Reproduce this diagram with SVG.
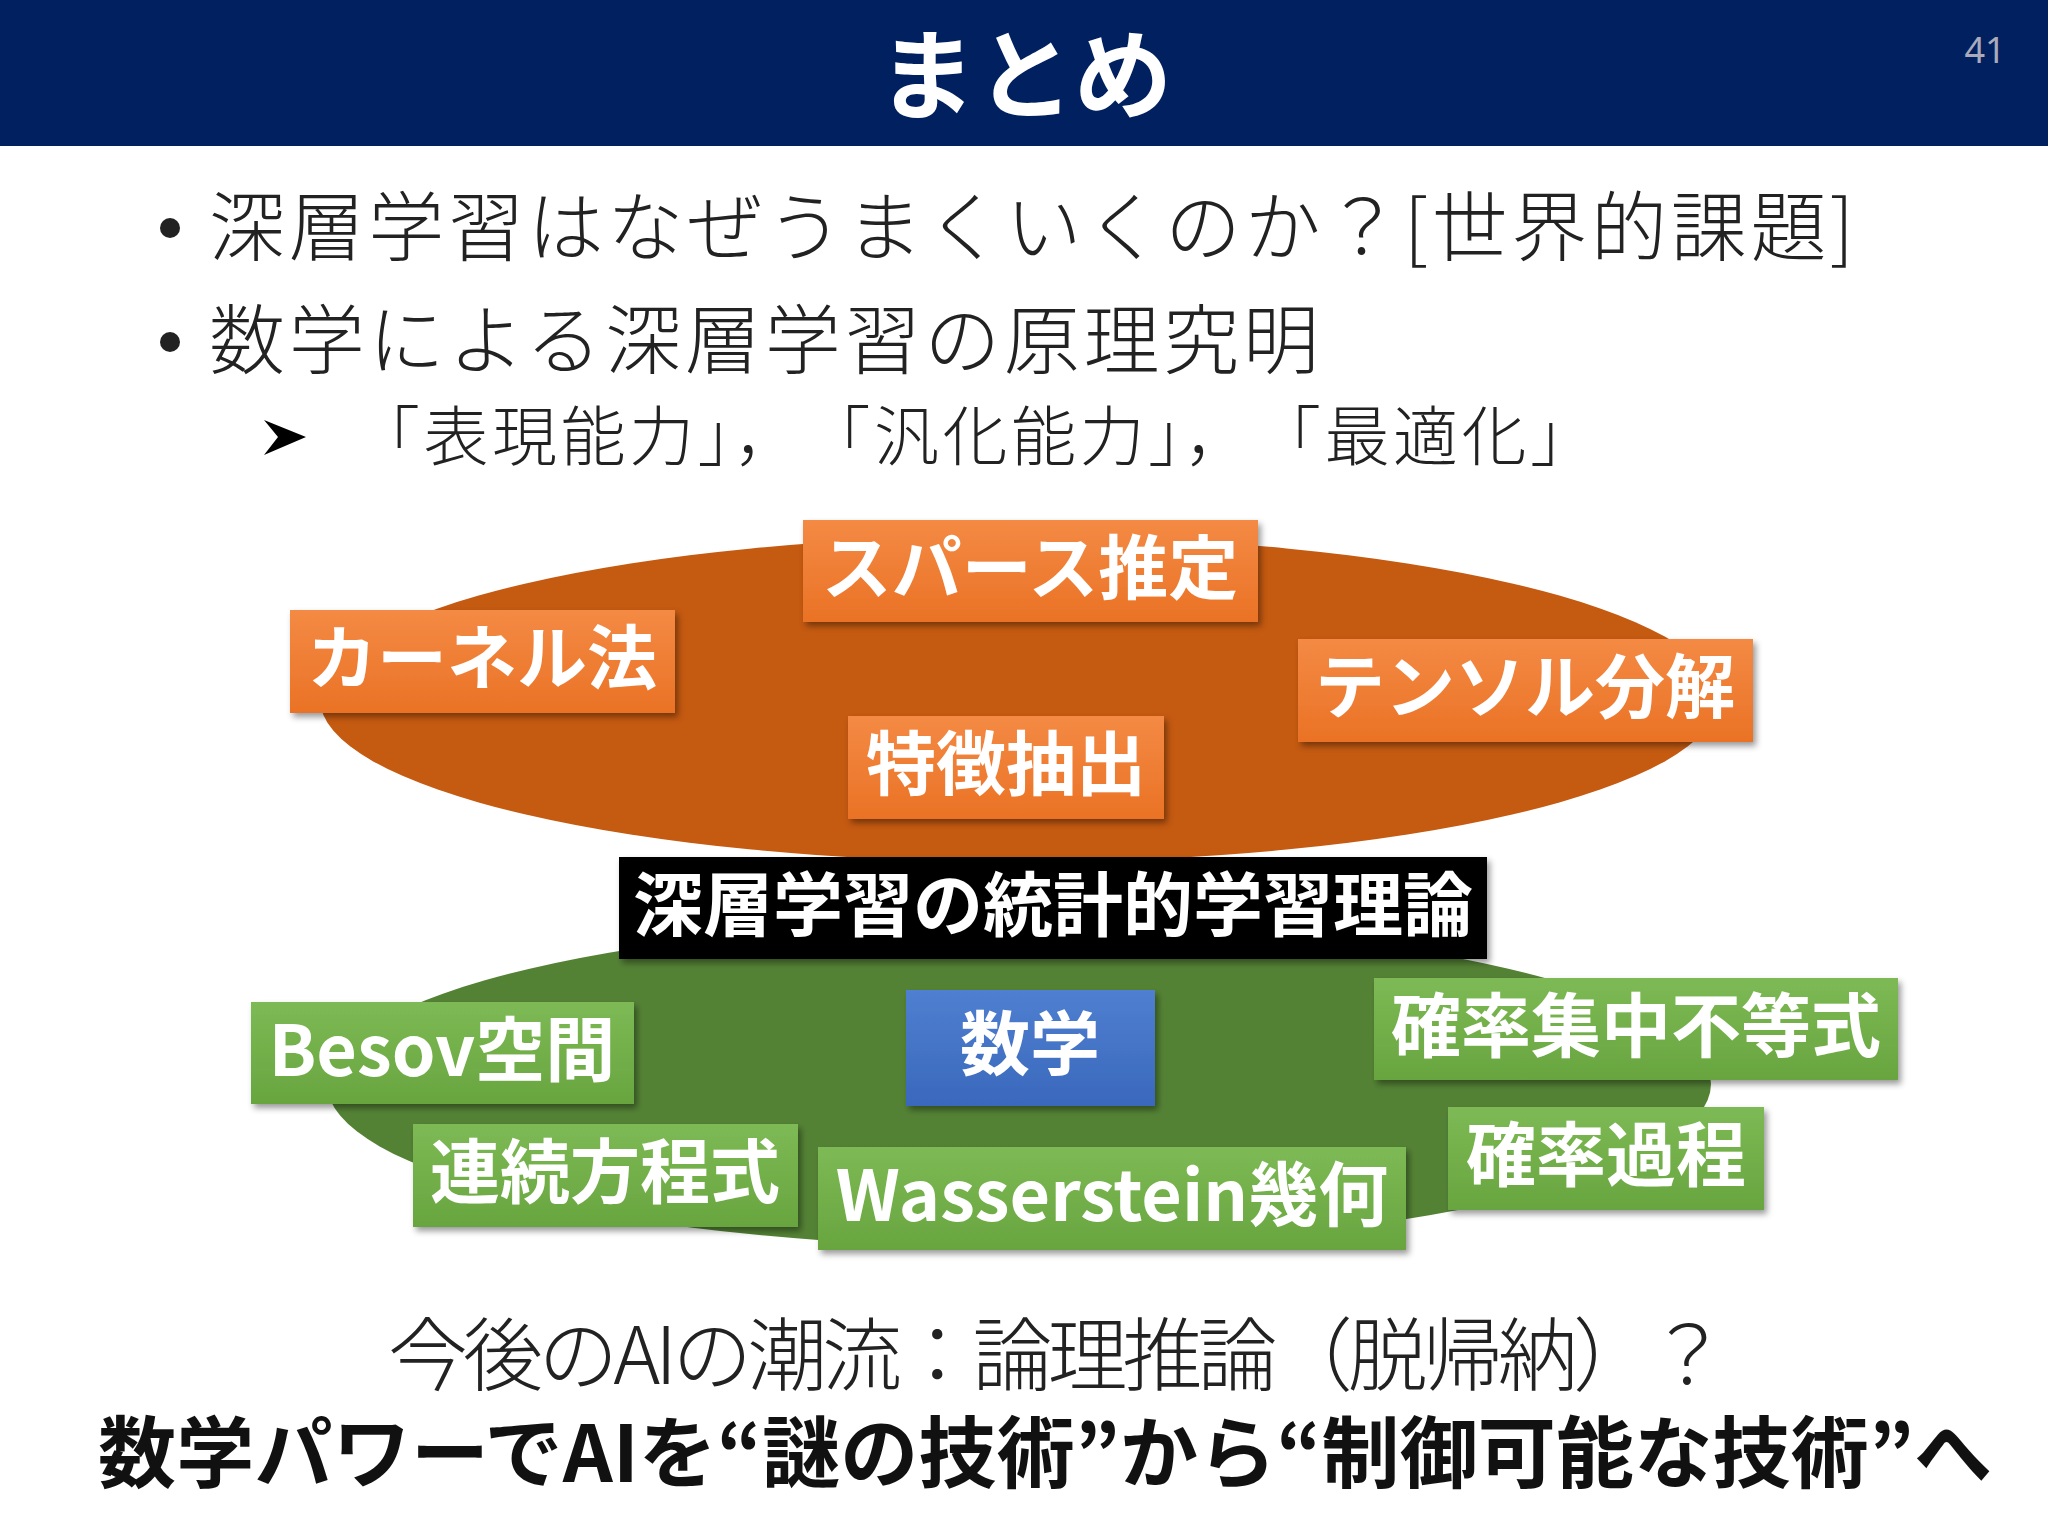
<svg xmlns="http://www.w3.org/2000/svg" width="2048" height="1536" viewBox="0 0 2048 1536">
<defs>
<filter id="sh" x="-10%" y="-10%" width="125%" height="130%"><feDropShadow dx="3" dy="4" stdDeviation="3" flood-color="#000" flood-opacity="0.4"/></filter>
<linearGradient id="og" x1="0" y1="0" x2="0" y2="1"><stop offset="0" stop-color="#F48A44"/><stop offset="1" stop-color="#EA7225"/></linearGradient>
<linearGradient id="gg" x1="0" y1="0" x2="0" y2="1"><stop offset="0" stop-color="#7DBA55"/><stop offset="1" stop-color="#68A53F"/></linearGradient>
<linearGradient id="bg" x1="0" y1="0" x2="0" y2="1"><stop offset="0" stop-color="#4F7FD0"/><stop offset="1" stop-color="#3A68BC"/></linearGradient>
</defs>
<style>
.jp{font-family:"Noto Sans CJK JP","Noto Sans",sans-serif}
.lbl{font-family:"Noto Sans CJK JP","Noto Sans",sans-serif;font-weight:bold;fill:#fff;font-size:70px;text-anchor:middle}
.o{fill:url(#og);filter:url(#sh)}
.g{fill:url(#gg);filter:url(#sh)}
</style>
<rect width="2048" height="1536" fill="#fff"/>
<rect width="2048" height="146" fill="#012060"/>
<text x="1025" y="111" class="jp" font-size="98" font-weight="bold" fill="#fff" text-anchor="middle">まとめ</text>
<text x="1985" y="63" font-family="Noto Sans,sans-serif" font-size="36" fill="#aab" text-anchor="middle">41</text>
<g class="jp" fill="#222">
<circle cx="170" cy="228" r="10"/>
<text x="209" y="255" font-size="76" font-weight="300" textLength="1645">深層学習はなぜうまくいくのか？[世界的課題]</text>
<circle cx="170" cy="342" r="10"/>
<text x="209" y="368" font-size="76" font-weight="300" textLength="1110">数学による深層学習の原理究明</text>
<path d="M264 420 L306 437 L264 455 L278 437 Z" fill="#000"/>
<text x="355" y="460" font-size="65" font-weight="300" textLength="1240">「表現能力」，　「汎化能力」，　「最適化」</text>
</g>
<ellipse cx="1019" cy="699" rx="699" ry="163" fill="#C55A11"/>
<ellipse cx="1019" cy="1084" rx="692" ry="163" fill="#548235"/>
<g id="n1"><rect class="o" x="803" y="520" width="455" height="102"/><text class="lbl" x="1030" y="594">スパース推定</text></g>
<g id="n2"><rect class="o" x="290" y="610" width="385" height="103"/><text class="lbl" x="482" y="684">カーネル法</text></g>
<g id="n3"><rect class="o" x="1298" y="639" width="455" height="103"/><text class="lbl" x="1525" y="713">テンソル分解</text></g>
<g id="n4"><rect class="o" x="848" y="716" width="316" height="103"/><text class="lbl" x="1006" y="790">特徴抽出</text></g>
<g id="n5"><rect x="619" y="857" width="868" height="102" fill="#000" filter="url(#sh)"/><text class="lbl" x="1053" y="931">深層学習の統計的学習理論</text></g>
<g id="n6"><rect class="g" x="251" y="1002" width="383" height="102"/><text class="lbl" x="442" y="1076">Besov空間</text></g>
<g id="n7"><rect x="906" y="990" width="249" height="116" fill="url(#bg)" filter="url(#sh)"/><text class="lbl" x="1030" y="1070" font-size="76">数学</text></g>
<g id="n8"><rect class="g" x="1374" y="978" width="524" height="102"/><text class="lbl" x="1636" y="1052">確率集中不等式</text></g>
<g id="n9"><rect class="g" x="413" y="1124" width="385" height="103"/><text class="lbl" x="605" y="1198">連続方程式</text></g>
<g id="n10"><rect class="g" x="818" y="1147" width="588" height="103"/><text class="lbl" x="1112" y="1221">Wasserstein幾何</text></g>
<g id="n11"><rect class="g" x="1448" y="1107" width="316" height="103"/><text class="lbl" x="1606" y="1181">確率過程</text></g>
<g id="connectors"></g>
<text x="1058" y="1384" class="jp" font-size="80" font-weight="300" fill="#222" text-anchor="middle" textLength="1340">今後のAIの潮流：論理推論（脱帰納）？</text>
<text x="1045" y="1482" class="jp" font-size="78" font-weight="bold" fill="#111" text-anchor="middle" textLength="1894">数学パワーでAIを“謎の技術”から“制御可能な技術”へ</text>
</svg>
